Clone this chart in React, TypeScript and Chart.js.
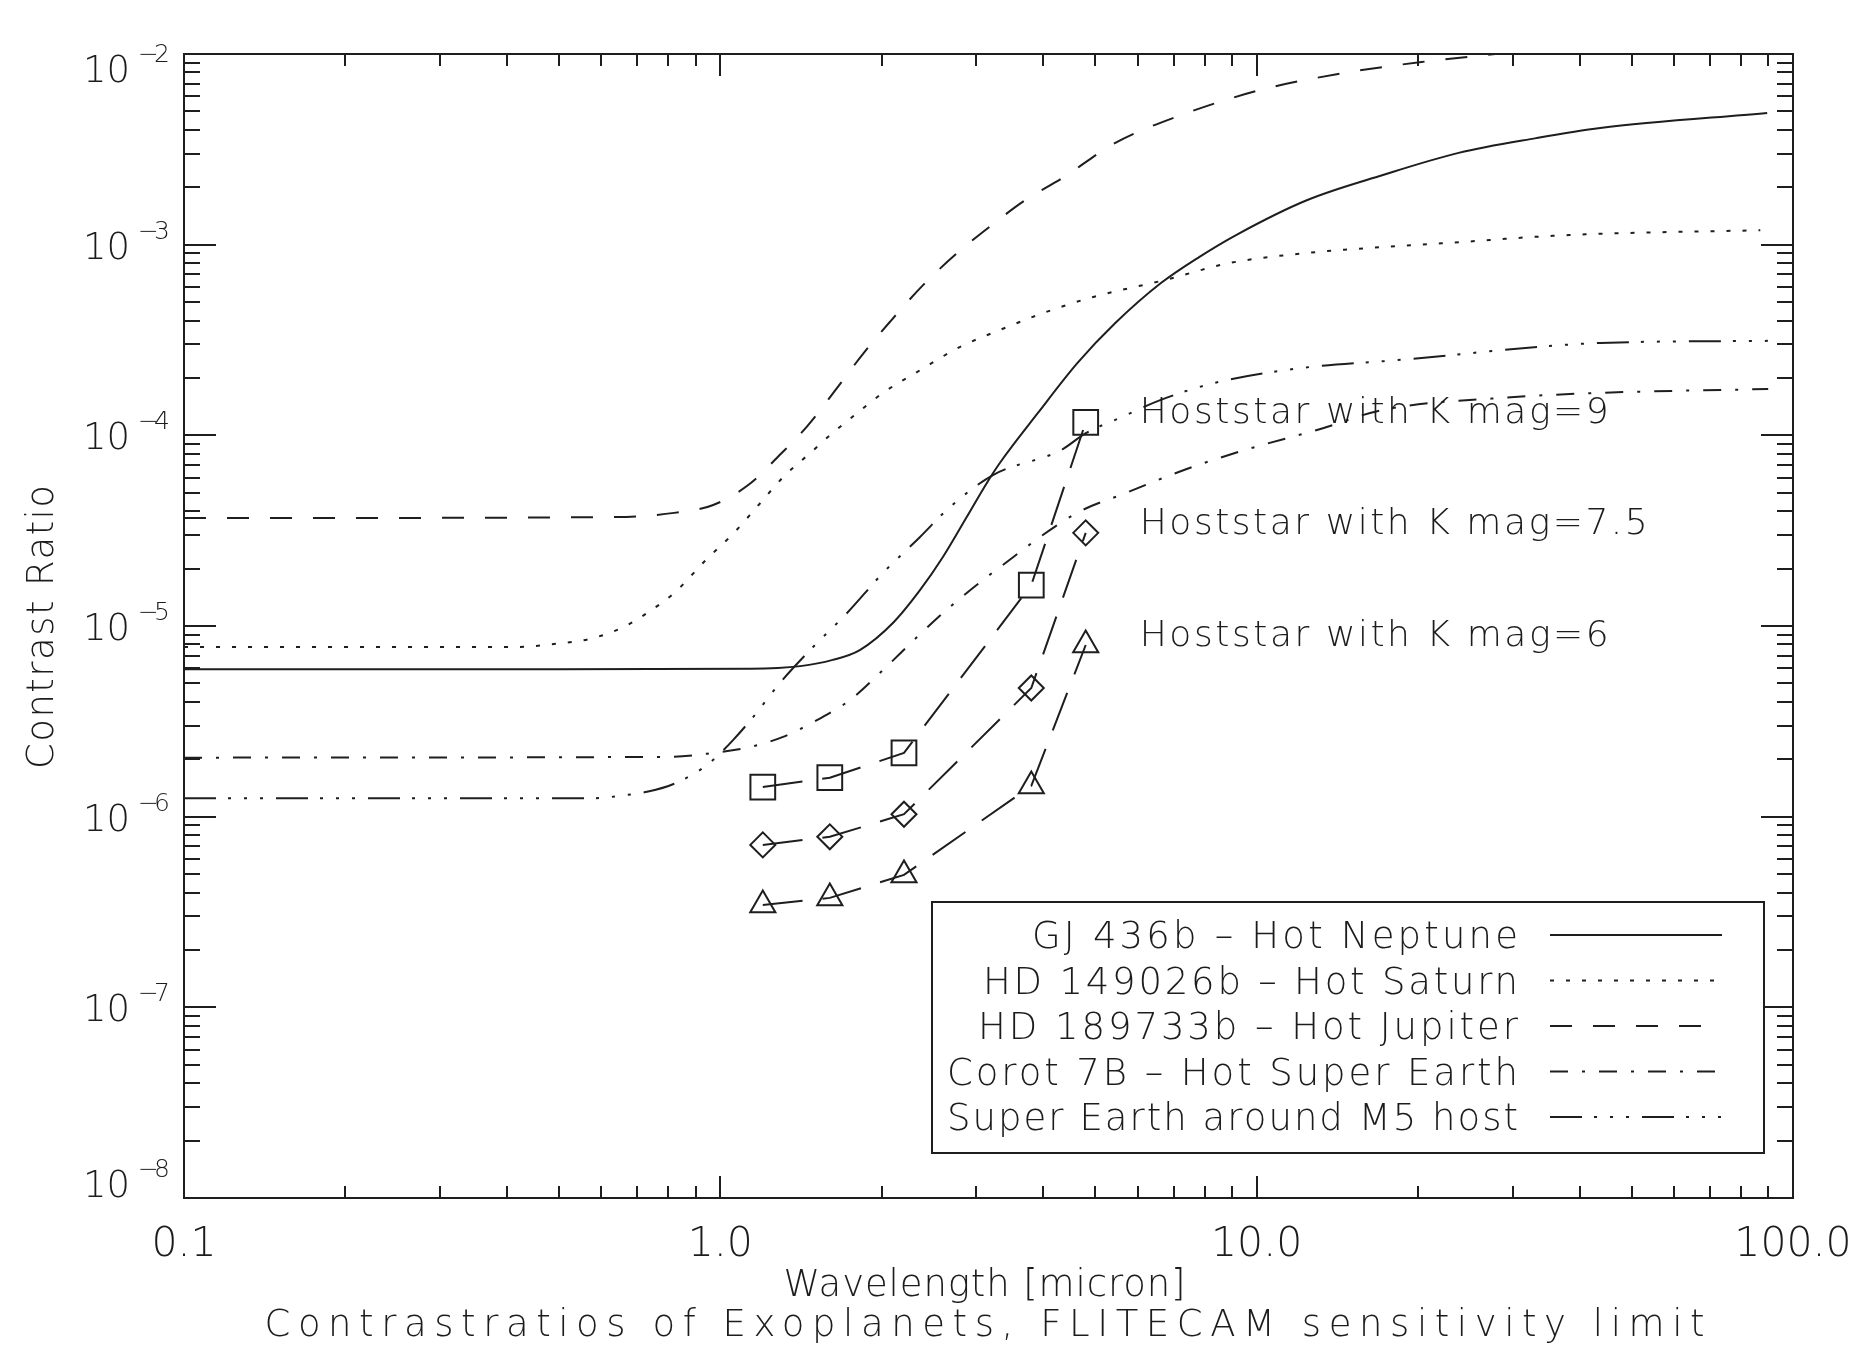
import React, { useEffect, useRef } from 'react';
import { Chart, registerables } from 'chart.js';

Chart.register(...registerables);

// ---------------- data ----------------
const neptuneWavelength = [0.1, 0.39, 1.14, 1.41, 1.62, 1.82, 2.1, 2.36, 2.6, 2.88, 3.14, 3.32, 3.91, 4.63, 5.45, 6.63, 7.81, 9.19, 12.4, 17.2, 23.8, 33.2, 43.7, 89.5];
const neptuneContrast = [5.94e-6, 5.94e-6, 5.97e-6, 6.16e-6, 6.64e-6, 7.48e-6, 1.04e-5, 1.55e-5, 2.3e-5, 3.73e-5, 5.63e-5, 7.16e-5, 1.31e-4, 2.39e-4, 3.88e-4, 6.29e-4, 8.61e-4, 1.13e-3, 1.71e-3, 2.32e-3, 3.03e-3, 3.62e-3, 4.09e-3, 4.91e-3];

const saturnWavelength = [0.1, 0.41, 0.51, 0.58, 0.66, 0.73, 0.82, 0.94, 1.06, 1.17, 1.31, 1.47, 1.62, 1.8, 2.01, 2.36, 2.8, 3.32, 4.0, 4.96, 6.75, 8.92, 12.4, 17.2, 23.8, 33.2, 43.7, 86.9];
const saturnContrast = [7.76e-6, 7.76e-6, 8.15e-6, 8.65e-6, 9.88e-6, 1.17e-5, 1.49e-5, 2.22e-5, 3.08e-5, 4.21e-5, 6.04e-5, 8.07e-5, 1.03e-4, 1.31e-4, 1.67e-4, 2.2e-4, 2.91e-4, 3.57e-4, 4.38e-4, 5.32e-4, 6.53e-4, 8.02e-4, 9.04e-4, 9.72e-4, 1.03e-3, 1.1e-3, 1.14e-3, 1.19e-3];

const jupiterWavelength = [0.1, 0.64, 0.82, 0.97, 1.14, 1.29, 1.45, 1.64, 1.85, 2.07, 2.39, 2.78, 3.21, 3.7, 4.35, 5.44, 7.08, 10.15, 14.55, 20.3, 26.8, 45, 90];
const jupiterContrast = [3.68e-5, 3.73e-5, 3.92e-5, 4.31e-5, 5.62e-5, 7.88e-5, 1.11e-4, 1.73e-4, 2.7e-4, 3.93e-4, 6.15e-4, 9.16e-4, 1.27e-3, 1.71e-3, 2.24e-3, 3.41e-3, 4.68e-3, 6.47e-3, 7.95e-3, 9.08e-3, 9.88e-3, 1.15e-2, 1.3e-2];

const corotWavelength = [0.1, 0.816, 0.969, 1.136, 1.309, 1.514, 1.745, 2.011, 2.327, 2.681, 3.324, 4.626, 5.71, 7.32, 9.51, 13.0, 17.2, 28.4, 43.7, 89.9];
const corotContrast = [2.04e-6, 2.06e-6, 2.16e-6, 2.32e-6, 2.62e-6, 3.21e-6, 4.09e-6, 5.88e-6, 8.75e-6, 1.26e-5, 2.04e-5, 3.92e-5, 4.99e-5, 6.58e-5, 8.38e-5, 1.07e-4, 1.36e-4, 1.57e-4, 1.67e-4, 1.75e-4];

const m5Wavelength = [0.1, 0.579, 0.67, 0.73, 0.816, 0.917, 0.969, 1.056, 1.151, 1.292, 1.489, 1.723, 2.011, 2.357, 2.681, 3.224, 4.318, 4.81, 5.54, 6.61, 8.33, 12.05, 18.3, 43.7, 89.9];
const m5Contrast = [1.25e-6, 1.25e-6, 1.3e-6, 1.35e-6, 1.48e-6, 1.76e-6, 1.98e-6, 2.52e-6, 3.33e-6, 5.03e-6, 7.76e-6, 1.17e-5, 1.9e-5, 2.93e-5, 4.21e-5, 6.19e-5, 8.37e-5, 1.03e-4, 1.23e-4, 1.53e-4, 1.88e-4, 2.25e-4, 2.48e-4, 3.05e-4, 3.13e-4];

const bandWavelength = [1.2, 1.6, 2.2, 3.8, 4.8];
const kmag9Contrast = [1.43e-6, 1.6e-6, 2.16e-6, 1.64e-5, 1.17e-4];
const kmag75Contrast = [7.11e-7, 7.84e-7, 1.03e-6, 4.73e-6, 3.08e-5];
const kmag6Contrast = [3.44e-7, 3.75e-7, 4.95e-7, 1.45e-6, 7.95e-6];

const seriesLabels = [
  'GJ 436b – Hot Neptune',
  'HD 149026b – Hot Saturn',
  'HD 189733b – Hot Jupiter',
  'Corot 7B – Hot Super Earth',
  'Super Earth around M5 host',
];
const hostLabels = ['Hoststar with K mag=9', 'Hoststar with K mag=7.5', 'Hoststar with K mag=6'];
const xTickValues = [0.1, 1, 10, 100];
const xTickLabels = ['0.1', '1.0', '10.0', '100.0'];
const yTickExponents = [-8, -7, -6, -5, -4, -3, -2];
const xTitle = 'Wavelength [micron]';
const subTitle = 'Contrastratios of Exoplanets, FLITECAM sensitivity limit';
const yTitle = 'Contrast Ratio';

// ---------------- styles ----------------
const INK = '#1c1c1c';
const LINE = '#1e1e1e';
const FONT = "'DejaVu Sans', 'Liberation Sans', sans-serif";
const W = 200;
const dashSolid: number[] = [];
const dashDotted = [4, 12];
const dashDashed = [22, 21];
const dashDashDot = [18, 14, 3, 14];
const dashDash3Dot = [32, 12, 3, 13, 3, 13, 3, 13];
const dashLong = [40, 20];
const seriesDashes = [dashSolid, dashDotted, dashDashed, dashDashDot, dashDash3Dot];
const legendWidths = [486, 535, 540, 571, 571];
const hostWidths = [469, 508, 469];

function toPoints(xs: number[], ys: number[]) {
  return xs.map((x, i) => ({ x, y: ys[i] }));
}

function drawFitted(
  ctx: CanvasRenderingContext2D,
  text: string,
  x: number,
  y: number,
  align: 'left' | 'right' | 'center',
  width?: number
) {
  ctx.save();
  (ctx as any).letterSpacing = '0px';
  ctx.textAlign = 'left';
  const w0 = ctx.measureText(text).width;
  let ls = 0;
  if (width && text.length > 1) ls = (width - w0) / (text.length - 1);
  (ctx as any).letterSpacing = ls + 'px';
  const w = width ?? w0;
  const left = align === 'left' ? x : align === 'right' ? x - w : x - w / 2;
  ctx.fillText(text, left, y);
  ctx.restore();
}

const idlPlugin = {
  id: 'idlFrame',
  afterDatasetsDraw(chart: any) {
    const ctx: CanvasRenderingContext2D = chart.ctx;
    const { left, right, top, bottom } = chart.chartArea;
    const xs = chart.scales.x;
    const ys = chart.scales.y;
    ctx.save();
    ctx.strokeStyle = LINE;
    ctx.fillStyle = INK;
    ctx.lineWidth = 2;
    ctx.setLineDash([]);

    // frame
    ctx.strokeRect(left, top, right - left, bottom - top);

    // ticks
    ctx.beginPath();
    for (let d = -1; d <= 2; d++) {
      for (let m = 1; m <= 9; m++) {
        const v = m * Math.pow(10, d);
        if (v < 0.0999 || v > 100.01) continue;
        const px = Math.round(xs.getPixelForValue(v));
        const len = m === 1 ? 22 : 12;
        ctx.moveTo(px, bottom);
        ctx.lineTo(px, bottom - len);
        ctx.moveTo(px, top);
        ctx.lineTo(px, top + len);
      }
    }
    for (let d = -8; d <= -2; d++) {
      for (let m = 1; m <= 9; m++) {
        const v = m * Math.pow(10, d);
        if (v < 0.999e-8 || v > 1.001e-2) continue;
        const py = Math.round(ys.getPixelForValue(v));
        const len = m === 1 ? 32 : 16;
        ctx.moveTo(left, py);
        ctx.lineTo(left + len, py);
        ctx.moveTo(right, py);
        ctx.lineTo(right - len, py);
      }
    }
    ctx.stroke();

    // x tick labels
    ctx.textBaseline = 'alphabetic';
    ctx.font = `${W} 41px ${FONT}`;
    xTickValues.forEach((v, i) => {
      const px = xs.getPixelForValue(v);
      drawFitted(ctx, xTickLabels[i], px, bottom + 58, 'center');
    });

    // y tick labels (10^e)
    yTickExponents.forEach((e) => {
      const py = ys.getPixelForValue(Math.pow(10, e));
      const base = Math.min(Math.max(py + 14, top + 28), bottom - 1);
      ctx.font = `${W} 37px ${FONT}`;
      drawFitted(ctx, '10', left - 54, base, 'right');
      ctx.font = `${W} 25px ${FONT}`;
      drawFitted(ctx, '−' + Math.abs(e), left - 46, base - 20, 'left', 32);
    });

    // axis titles
    ctx.font = `${W} 37px ${FONT}`;
    const cx = (left + right) / 2 - 4;
    drawFitted(ctx, xTitle, cx, bottom + 98, 'center', 402);
    drawFitted(ctx, subTitle, cx, bottom + 138, 'center', 1440);
    ctx.save();
    ctx.translate(left - 131, (top + bottom) / 2 + 1);
    ctx.rotate(-Math.PI / 2);
    drawFitted(ctx, yTitle, 0, 0, 'center', 284);
    ctx.restore();

    // host star annotations anchored on the last marker of each sensitivity series
    ctx.font = `${W} 36px ${FONT}`;
    [kmag9Contrast, kmag75Contrast, kmag6Contrast].forEach((arr, i) => {
      const n = bandWavelength.length - 1;
      const px = xs.getPixelForValue(bandWavelength[n]);
      const py = ys.getPixelForValue(arr[n]);
      drawFitted(ctx, hostLabels[i], px + 54, py + 1, 'left', hostWidths[i]);
    });

    // legend
    const bx = 932, by = 902, bw = 832, bh = 251;
    ctx.fillStyle = '#ffffff';
    ctx.fillRect(bx, by, bw, bh);
    ctx.strokeStyle = LINE;
    ctx.lineWidth = 2;
    ctx.strokeRect(bx, by, bw, bh);
    ctx.fillStyle = INK;
    ctx.font = `${W} 37px ${FONT}`;
    seriesLabels.forEach((lab, i) => {
      const base = 948 + i * 45.5;
      drawFitted(ctx, lab, 1518, base, 'right', legendWidths[i]);
      ctx.save();
      ctx.beginPath();
      ctx.setLineDash(seriesDashes[i]);
      ctx.lineWidth = 2;
      ctx.strokeStyle = LINE;
      ctx.moveTo(1550, base - 13);
      ctx.lineTo(1722, base - 13);
      ctx.stroke();
      ctx.restore();
    });

    ctx.restore();
  },
};

function lineDataset(label: string, xs: number[], ys: number[], dash: number[]) {
  return {
    label,
    data: toPoints(xs, ys),
    borderColor: LINE,
    backgroundColor: LINE,
    borderWidth: 2,
    borderDash: dash,
    pointRadius: 0,
    fill: false,
    cubicInterpolationMode: 'monotone' as const,
    clip: 0,
  };
}

function markerDataset(label: string, ys: number[], style: string, radius: number) {
  return {
    label,
    data: toPoints(bandWavelength, ys),
    borderColor: LINE,
    backgroundColor: 'rgba(0,0,0,0)',
    borderWidth: 2,
    borderDash: dashLong,
    pointStyle: style,
    pointRadius: radius,
    pointBorderWidth: 2,
    pointBorderColor: LINE,
    pointBackgroundColor: 'rgba(0,0,0,0)',
    fill: false,
    tension: 0,
    clip: 0,
  };
}

export default function App() {
  const ref = useRef<HTMLCanvasElement | null>(null);
  useEffect(() => {
    const canvas = ref.current;
    if (!canvas) return;
    const chart = new Chart(canvas, {
      type: 'line',
      data: {
        datasets: [
          lineDataset(seriesLabels[0], neptuneWavelength, neptuneContrast, dashSolid),
          lineDataset(seriesLabels[1], saturnWavelength, saturnContrast, dashDotted),
          lineDataset(seriesLabels[2], jupiterWavelength, jupiterContrast, dashDashed),
          lineDataset(seriesLabels[3], corotWavelength, corotContrast, dashDashDot),
          lineDataset(seriesLabels[4], m5Wavelength, m5Contrast, dashDash3Dot),
          markerDataset(hostLabels[0], kmag9Contrast, 'rect', 17.5),
          markerDataset(hostLabels[1], kmag75Contrast, 'rectRot', 12.5),
          markerDataset(hostLabels[2], kmag6Contrast, 'triangle', 14.5),
        ] as any,
      },
      options: {
        animation: false,
        responsive: false,
        devicePixelRatio: 1,
        events: [],
        layout: { padding: { left: 184, right: 61, top: 54, bottom: 158 } },
        plugins: {
          legend: { display: false },
          tooltip: { enabled: false },
          title: { display: false },
        },
        scales: {
          x: { type: 'logarithmic', min: 0.1, max: 100, display: false },
          y: { type: 'logarithmic', min: 1e-8, max: 1e-2, display: false },
        },
      } as any,
      plugins: [idlPlugin],
    });
    return () => chart.destroy();
  }, []);
  return (
    <div style={{ position: 'fixed', left: 0, top: 0, width: 1854, height: 1356, background: '#ffffff' }}>
      <canvas ref={ref} width={1854} height={1356} style={{ display: 'block', width: 1854, height: 1356 }} />
    </div>
  );
}
